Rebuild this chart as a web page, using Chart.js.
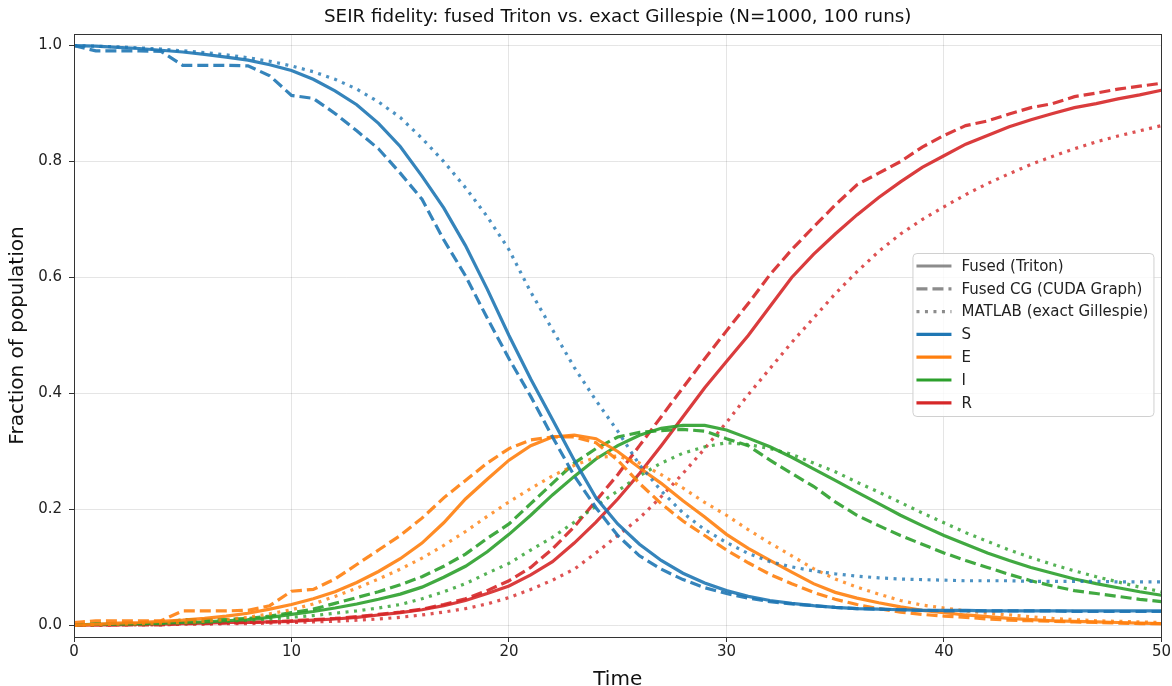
<!DOCTYPE html>
<html>
<head>
<meta charset="utf-8">
<script src="https://cdn.jsdelivr.net/npm/chart.js@4.4.1/dist/chart.umd.min.js"></script>
<style>
  body { margin: 0; background: #fff; }
  #wrap { width: 1172px; height: 686px; }
</style>
</head>
<body>
<div id="wrap"><canvas id="myChart" width="1172" height="686"></canvas></div>
<script>
const time = [0, 1, 2, 3, 4, 5, 6, 7, 8, 9, 10, 11, 12, 13, 14, 15, 16, 17, 18, 19, 20,
  21, 22, 23, 24, 25, 26, 27, 28, 29, 30, 31, 32, 33, 34, 35, 36, 37, 38, 39, 40,
  41, 42, 43, 44, 45, 46, 47, 48, 49, 50];

// Fused (Triton)
const sFused = [1.0, 0.999, 0.997, 0.995, 0.992, 0.989, 0.985, 0.98, 0.975, 0.967, 0.957, 0.942, 0.922, 0.898, 0.866, 0.826, 0.775, 0.72, 0.655, 0.58, 0.5,
  0.425, 0.355, 0.285, 0.22, 0.175, 0.14, 0.112, 0.09, 0.073, 0.06, 0.05, 0.043, 0.038, 0.034, 0.031, 0.029, 0.028, 0.027, 0.026, 0.026,
  0.026, 0.025, 0.025, 0.025, 0.025, 0.025, 0.025, 0.025, 0.025, 0.025];
const eFused = [0.0, 0.002, 0.004, 0.005, 0.007, 0.009, 0.012, 0.016, 0.021, 0.028, 0.036, 0.046, 0.058, 0.074, 0.093, 0.115, 0.142, 0.177, 0.218, 0.252, 0.285,
  0.31, 0.325, 0.328, 0.322, 0.3, 0.272, 0.245, 0.215, 0.187, 0.157, 0.133, 0.112, 0.092, 0.072, 0.057, 0.047, 0.039, 0.032, 0.026, 0.022,
  0.018, 0.015, 0.012, 0.01, 0.008, 0.007, 0.006, 0.005, 0.004, 0.003];
const iFused = [0.001, 0.002, 0.002, 0.003, 0.004, 0.005, 0.006, 0.008, 0.01, 0.014, 0.019, 0.024, 0.03, 0.037, 0.045, 0.054, 0.066, 0.083, 0.102, 0.127, 0.157,
  0.19, 0.225, 0.257, 0.287, 0.31, 0.328, 0.34, 0.345, 0.345, 0.337, 0.323, 0.308, 0.29, 0.27, 0.25, 0.23, 0.21, 0.19, 0.172, 0.155,
  0.14, 0.125, 0.112, 0.1, 0.09, 0.08, 0.072, 0.065, 0.058, 0.052];
const rFused = [0.0, 0.001, 0.001, 0.002, 0.002, 0.003, 0.004, 0.005, 0.005, 0.006, 0.007, 0.009, 0.011, 0.014, 0.018, 0.022, 0.027, 0.034, 0.043, 0.055, 0.068,
  0.087, 0.11, 0.142, 0.178, 0.218, 0.262, 0.31, 0.36, 0.41, 0.455, 0.5, 0.55, 0.6, 0.64, 0.675, 0.708, 0.738, 0.765, 0.79, 0.81,
  0.83, 0.845, 0.86, 0.872, 0.883, 0.893, 0.9, 0.908, 0.915, 0.923];

// Fused CG (CUDA Graph)
const sCG = [1.0, 0.991, 0.991, 0.991, 0.99, 0.966, 0.966, 0.966, 0.965, 0.948, 0.914, 0.909, 0.883, 0.853, 0.822, 0.78, 0.735, 0.665, 0.603, 0.53, 0.46,
  0.395, 0.325, 0.258, 0.203, 0.155, 0.12, 0.097, 0.079, 0.065, 0.055, 0.047, 0.041, 0.037, 0.034, 0.031, 0.029, 0.028, 0.027, 0.026, 0.025,
  0.025, 0.025, 0.025, 0.025, 0.025, 0.024, 0.024, 0.024, 0.024, 0.024];
const eCG = [0.005, 0.008, 0.008, 0.008, 0.008, 0.025, 0.025, 0.025, 0.026, 0.034, 0.059, 0.062, 0.08, 0.105, 0.13, 0.155, 0.185, 0.22, 0.25, 0.28, 0.305,
  0.32, 0.325, 0.325, 0.315, 0.285, 0.245, 0.21, 0.18, 0.155, 0.13, 0.108, 0.088, 0.072, 0.057, 0.045, 0.036, 0.029, 0.023, 0.019, 0.016,
  0.014, 0.011, 0.009, 0.008, 0.007, 0.006, 0.005, 0.004, 0.003, 0.003];
const iCG = [0.001, 0.003, 0.003, 0.003, 0.003, 0.01, 0.01, 0.01, 0.012, 0.016, 0.022, 0.028, 0.038, 0.048, 0.058, 0.07, 0.084, 0.102, 0.123, 0.15, 0.175,
  0.21, 0.245, 0.28, 0.305, 0.325, 0.333, 0.336, 0.338, 0.335, 0.322, 0.31, 0.285, 0.262, 0.24, 0.213, 0.19, 0.172, 0.155, 0.14, 0.125,
  0.112, 0.1, 0.088, 0.077, 0.068, 0.06, 0.055, 0.05, 0.045, 0.041];
const rCG = [0.0, 0.001, 0.001, 0.001, 0.001, 0.003, 0.003, 0.004, 0.005, 0.006, 0.008, 0.01, 0.012, 0.015, 0.019, 0.023, 0.028, 0.036, 0.046, 0.06, 0.077,
  0.1, 0.132, 0.17, 0.215, 0.26, 0.31, 0.36, 0.41, 0.46, 0.508, 0.555, 0.605, 0.648, 0.687, 0.725, 0.76, 0.78, 0.8, 0.825, 0.845,
  0.862, 0.87, 0.882, 0.893, 0.9, 0.912, 0.918, 0.925, 0.93, 0.935];

// MATLAB (exact Gillespie)
const sMatlab = [1.0, 0.999, 0.998, 0.996, 0.994, 0.991, 0.988, 0.984, 0.979, 0.973, 0.965, 0.955, 0.942, 0.925, 0.903, 0.876, 0.84, 0.8, 0.755, 0.705, 0.648,
  0.575, 0.51, 0.445, 0.388, 0.335, 0.277, 0.232, 0.194, 0.165, 0.143, 0.124, 0.11, 0.101, 0.094, 0.089, 0.085, 0.082, 0.08, 0.079, 0.078,
  0.077, 0.077, 0.077, 0.076, 0.076, 0.076, 0.076, 0.075, 0.075, 0.075];
const eMatlab = [0.0, 0.001, 0.002, 0.003, 0.004, 0.005, 0.007, 0.01, 0.014, 0.02, 0.027, 0.037, 0.05, 0.064, 0.08, 0.097, 0.116, 0.138, 0.162, 0.188, 0.213,
  0.236, 0.258, 0.276, 0.29, 0.292, 0.28, 0.26, 0.237, 0.212, 0.19, 0.165, 0.142, 0.12, 0.098, 0.08, 0.066, 0.054, 0.043, 0.035, 0.03,
  0.025, 0.021, 0.018, 0.015, 0.012, 0.01, 0.008, 0.007, 0.006, 0.005];
const iMatlab = [0.001, 0.001, 0.002, 0.002, 0.003, 0.004, 0.005, 0.007, 0.009, 0.011, 0.014, 0.017, 0.021, 0.025, 0.03, 0.036, 0.046, 0.058, 0.072, 0.09, 0.107,
  0.13, 0.152, 0.178, 0.206, 0.232, 0.258, 0.28, 0.297, 0.308, 0.315, 0.312, 0.305, 0.295, 0.28, 0.265, 0.247, 0.23, 0.212, 0.194, 0.177,
  0.16, 0.145, 0.13, 0.117, 0.105, 0.094, 0.084, 0.075, 0.066, 0.058];
const rMatlab = [0.0, 0.0, 0.001, 0.001, 0.001, 0.002, 0.002, 0.003, 0.003, 0.004, 0.005, 0.006, 0.007, 0.009, 0.011, 0.014, 0.018, 0.023, 0.029, 0.037, 0.048,
  0.062, 0.078, 0.097, 0.125, 0.155, 0.185, 0.222, 0.262, 0.305, 0.35, 0.398, 0.443, 0.488, 0.53, 0.572, 0.61, 0.645, 0.675, 0.7, 0.722,
  0.743, 0.762, 0.779, 0.795, 0.809, 0.822, 0.834, 0.844, 0.853, 0.862];

const xTicks = [0, 10, 20, 30, 40, 50];
const yTicks = [0.0, 0.2, 0.4, 0.6, 0.8, 1.0];

const titleText = "SEIR fidelity: fused Triton vs. exact Gillespie (N=1000, 100 runs)";
const compartments = ["S", "E", "I", "R"];
const colors = ["31, 119, 180", "255, 127, 14", "44, 160, 44", "214, 39, 40"];
const methods = [
  { label: "Fused (Triton)", dash: [], alpha: 0.9, series: [sFused, eFused, iFused, rFused] },
  { label: "Fused CG (CUDA Graph)", dash: [11, 5], alpha: 0.9, series: [sCG, eCG, iCG, rCG] },
  { label: "MATLAB (exact Gillespie)", dash: [3, 5.5], alpha: 0.8, series: [sMatlab, eMatlab, iMatlab, rMatlab] },
];

const FONT = "'DejaVu Sans', sans-serif";

const datasets = [];
compartments.forEach((c, ci) => {
  methods.forEach((m) => {
    datasets.push({
      label: c + " " + m.label,
      data: time.map((t, i) => ({ x: t, y: m.series[ci][i] })),
      borderColor: "rgba(" + colors[ci] + ", " + m.alpha + ")",
      borderDash: m.dash,
      borderWidth: 3.2,
      pointRadius: 0,
      tension: 0,
      fill: false,
    });
  });
});

// frame, title over the plot area, matplotlib-like legend
const frameLegend = {
  id: "frameLegend",
  afterDatasetsDraw(chart) {
    const { ctx, chartArea: a } = chart;
    ctx.save();
    ctx.strokeStyle = "#333";
    ctx.lineWidth = 1;
    ctx.strokeRect(Math.round(a.left) + 0.5, Math.round(a.top) + 0.5, Math.round(a.right - a.left), Math.round(a.bottom - a.top));

    ctx.fillStyle = "#111";
    ctx.font = "18.3px " + FONT;
    ctx.textAlign = "center";
    ctx.textBaseline = "middle";
    ctx.fillText(titleText, (a.left + a.right) / 2, 17);

    const items = methods.map((m) => ({ label: m.label, color: "rgba(128,128,128,0.9)", dash: m.dash }))
      .concat(compartments.map((c, ci) => ({ label: c, color: "rgb(" + colors[ci] + ")", dash: [] })));
    const w = 241, h = 163, rowH = 22.8;
    const bx = a.right - 8 - w;
    const by = (a.top + a.bottom) / 2 - h / 2 - 1;
    ctx.beginPath();
    ctx.roundRect(bx + 0.5, by + 0.5, w, h, 4);
    ctx.fillStyle = "rgba(255,255,255,0.8)";
    ctx.fill();
    ctx.strokeStyle = "#d0d0d0";
    ctx.stroke();
    ctx.font = "15px " + FONT;
    ctx.textBaseline = "middle";
    ctx.textAlign = "left";
    items.forEach((it, i) => {
      const y = by + 13 + i * rowH;
      ctx.beginPath();
      ctx.setLineDash(it.dash);
      ctx.strokeStyle = it.color;
      ctx.lineWidth = 3.2;
      ctx.moveTo(bx + 4, y);
      ctx.lineTo(bx + 39, y);
      ctx.stroke();
      ctx.setLineDash([]);
      ctx.fillStyle = "#222";
      ctx.fillText(it.label, bx + 49, y + 1);
    });
    ctx.restore();
  },
};

const ctx = document.getElementById("myChart").getContext("2d");

new Chart(ctx, {
  type: "line",
  data: { datasets: datasets },
  plugins: [frameLegend],
  options: {
    responsive: false,
    animation: false,
    layout: { padding: { top: 34, right: 10, left: 0, bottom: 0 } },
    plugins: {
      legend: { display: false },
      tooltip: { enabled: false },
      title: { display: false },
    },
    scales: {
      x: {
        type: "linear",
        min: 0,
        max: 50,
        afterFit: (s) => { s.height = 49; },
        afterBuildTicks: (s) => { s.ticks = xTicks.map((v) => ({ value: v })); },
        ticks: { color: "#222", font: { family: FONT, size: 15 }, padding: 1, maxRotation: 0 },
        grid: { color: "rgba(0,0,0,0.1)", tickColor: "#333", tickLength: 5 },
        border: { color: "#333", width: 1 },
        title: {
          display: true,
          text: "Time",
          color: "#111",
          font: { family: FONT, size: 20 },
          padding: { top: 4, bottom: -6 },
        },
      },
      y: {
        type: "linear",
        min: -0.02,
        max: 1.02,
        afterFit: (s) => { s.width = 74; },
        afterBuildTicks: (s) => { s.ticks = yTicks.map((v) => ({ value: v })); },
        ticks: { color: "#222", font: { family: FONT, size: 15 }, padding: 7, callback: (v) => v.toFixed(1) },
        grid: { color: "rgba(0,0,0,0.1)", tickColor: "#333", tickLength: 5 },
        border: { color: "#333", width: 1 },
        title: {
          display: true,
          text: "Fraction of population",
          color: "#111",
          font: { family: FONT, size: 20 },
          padding: { top: 6, bottom: 4 },
        },
      },
    },
  },
});
</script>
</body>
</html>
